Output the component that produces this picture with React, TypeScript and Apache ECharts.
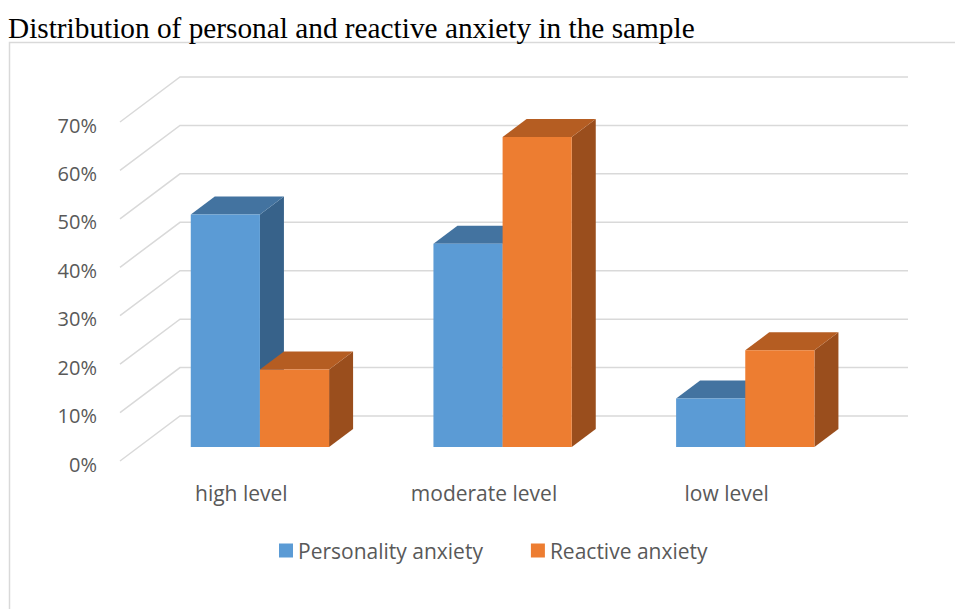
import React, { useEffect, useRef } from "react";
import * as echarts from "echarts";

const categories = ["high level", "moderate level", "low level"];
const personalityAnxiety = [48, 42, 10];
const reactiveAnxiety = [16, 64, 20];
const yTicks = [0, 10, 20, 30, 40, 50, 60, 70];
const seriesNames = ["Personality anxiety", "Reactive anxiety"];
const titleText = "Distribution of personal and reactive anxiety in the sample";

// 3D projection of the depth axis (pixels from front plane to back wall)
const DEPTH_X = 60;
const DEPTH_Y = -45;
const T_FRONT = 0.31;
const T_BACK = 0.71;
const BAR_FRAC = 0.285;

const blueFaces = { front: "#5B9BD5", top: "#4373A0", side: "#37628A" };
const orangeFaces = { front: "#ED7D31", top: "#B55D22", side: "#9A4E1D" };

function bar3d(side: number, colors: { front: string; top: string; side: string }) {
  return (params: any, api: any) => {
    const cat = api.value(0);
    const val = api.value(1);
    const base = api.coord([cat, 0]);
    const top = api.coord([cat, val]);
    const band = api.size([1, 0])[0];
    const w = band * BAR_FRAC;
    const fx = DEPTH_X * T_FRONT;
    const fy = DEPTH_Y * T_FRONT;
    const dx = DEPTH_X * (T_BACK - T_FRONT);
    const dy = DEPTH_Y * (T_BACK - T_FRONT);
    const x0 = base[0] + fx + (side === 0 ? -w : 0);
    const x1 = x0 + w;
    const yB = base[1] + fy;
    const yT = top[1] + fy;
    return {
      type: "group",
      children: [
        {
          type: "polygon",
          shape: { points: [[x1, yT], [x1 + dx, yT + dy], [x1 + dx, yB + dy], [x1, yB]] },
          style: { fill: colors.side },
        },
        {
          type: "polygon",
          shape: { points: [[x0, yT], [x1, yT], [x1 + dx, yT + dy], [x0 + dx, yT + dy]] },
          style: { fill: colors.top },
        },
        {
          type: "rect",
          shape: { x: x0, y: yT, width: w, height: yB - yT },
          style: { fill: colors.front },
        },
      ],
    };
  };
}

function gridLine(params: any, api: any) {
  const v = api.value(1);
  const p = api.coord([0, v]);
  const cs = params.coordSys;
  const y = p[1];
  return {
    type: "polyline",
    shape: {
      points: [
        [cs.x, y],
        [cs.x + DEPTH_X, y + DEPTH_Y],
        [cs.x + cs.width + DEPTH_X, y + DEPTH_Y],
      ],
    },
    style: { stroke: "#D9D9D9", lineWidth: 1.5, fill: "none" },
  };
}

export default function App() {
  const ref = useRef<HTMLDivElement>(null);
  useEffect(() => {
    if (!ref.current) return;
    const chart = echarts.init(ref.current, undefined, { renderer: "svg" });
    const font = "'Open Sans', sans-serif";
    chart.setOption({
      animation: false,
      backgroundColor: "#ffffff",
      color: [blueFaces.front, orangeFaces.front],
      title: {
        text: titleText,
        left: 3,
        top: 8,
        textStyle: {
          fontFamily: "'Liberation Serif', 'Times New Roman', serif",
          fontSize: 29.3,
          fontWeight: "normal",
          color: "#000000",
        },
      },
      graphic: [
        {
          type: "rect",
          shape: { x: 9.5, y: 42.5, width: 1000, height: 700 },
          style: { fill: "none", stroke: "#D9D9D9", lineWidth: 1.5 },
          silent: true,
          z: -1,
        },
      ],
      legend: {
        data: seriesNames,
        left: 274,
        top: 535,
        icon: "rect",
        itemWidth: 14,
        itemHeight: 14,
        itemGap: 48,
        textStyle: { fontFamily: font, fontSize: 21, color: "#595959" },
      },
      grid: {
        left: 120,
        top: 122,
        width: 728,
        height: 339,
        containLabel: false,
        outerBoundsMode: "none",
      },
      xAxis: {
        type: "category",
        data: categories,
        axisLine: { show: false },
        axisTick: { show: false },
        splitLine: { show: false },
        axisLabel: { interval: 0, margin: 21, fontFamily: font, fontSize: 21, color: "#595959" },
      },
      yAxis: {
        type: "value",
        min: 0,
        max: 70,
        interval: 10,
        axisLine: { show: false },
        axisTick: { show: false },
        splitLine: { show: false },
        axisLabel: {
          formatter: (v: number) => "{a|" + v + "%}",
          margin: 23,
          rich: {
            a: {
              padding: [6, 0, 0, 0],
              fontFamily: font,
              fontSize: 20,
              color: "#595959",
            },
          },
          fontFamily: font,
          fontSize: 20,
          color: "#595959",
        },
      },
      series: [
        {
          type: "custom",
          name: "gridlines",
          renderItem: gridLine,
          data: yTicks.map((v) => [0, v]),
          encode: { x: 0, y: 1 },
          silent: true,
          z: 1,
        },
        {
          type: "custom",
          name: seriesNames[0],
          renderItem: bar3d(0, blueFaces),
          itemStyle: { color: blueFaces.front },
          data: personalityAnxiety.map((v, i) => [i, v]),
          encode: { x: 0, y: 1 },
          z: 2,
        },
        {
          type: "custom",
          name: seriesNames[1],
          renderItem: bar3d(1, orangeFaces),
          itemStyle: { color: orangeFaces.front },
          data: reactiveAnxiety.map((v, i) => [i, v]),
          encode: { x: 0, y: 1 },
          z: 3,
        },
      ],
    });
    return () => chart.dispose();
  }, []);
  return (
    <div
      ref={ref}
      style={{ position: "absolute", left: 0, top: 0, width: 955, height: 609 }}
    />
  );
}
